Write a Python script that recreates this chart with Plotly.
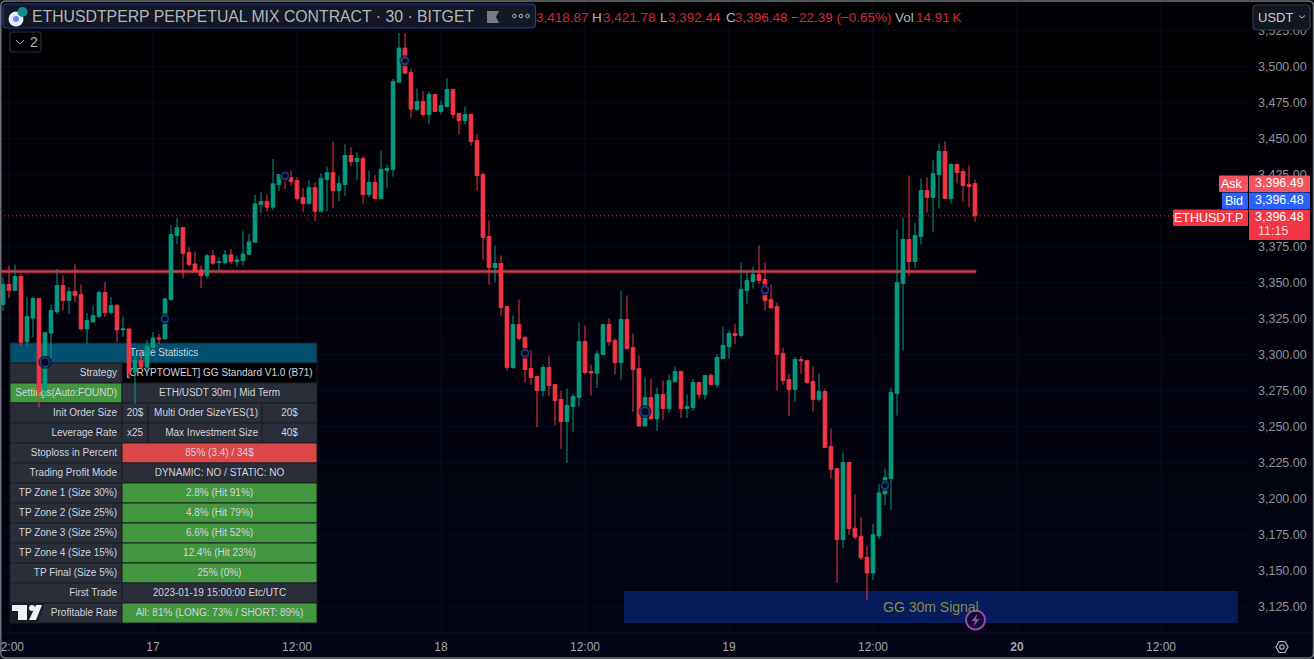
import pandas as pd
import plotly.graph_objects as go

W, H = 1314, 659
PLOT_R, PLOT_B = 1248, 633
FONT = "Liberation Sans"

# ---------- data ----------
times = pd.date_range("2024-07-16 11:30", periods=163, freq="30min")
opens = [
3334.9,3348.8,3344.6,3354.3,3309,3325.6,3339.1,3275.2,3315,3329.8,
3348.1,3337.7,3343.9,3341.8,3318,3322.8,3326.6,3343.2,3329.3,3334.2,
3317.3,3318,3288,3296,3291.4,3305.3,3311.7,3311,3338.4,3382.8,
3388.3,3371,3363.1,3358.9,3355,3368.7,3364,3364,3369.4,3364.7,
3365.4,3369.8,3378.2,3404.3,3406.4,3402.5,3418.2,3425.6,3422.9,3421,
3409.2,3405,3416.1,3399.7,3421.7,3426.6,3414,3418.3,3438.4,3434.2,
3436.3,3411.3,3419.7,3408.5,3428,3428.7,3489.3,3513,3496,3470.3,
3475.9,3466.9,3480.8,3469,3472.4,3484.2,3467.6,3462.7,3466.9,3448.8,
3425.2,3382.1,3360.6,3363.4,3333.5,3291.2,3321,3312,3290.5,3284.9,
3275.2,3291.2,3279.3,3268.9,3253.7,3264.1,3270.5,3309.2,3288.4,3287,
3300.2,3321,3309.9,3294.6,3324.5,3305,3290.5,3250.6,3270.3,3255.5,
3272.4,3262.7,3281.2,3288.4,3262.7,3263.4,3280.7,3272.4,3285.6,3279.3,
3297.4,3305.7,3314.8,3313.4,3344.6,3350.9,3355.7,3352.3,3338.4,3333.5,
3300.9,3282.8,3275.9,3296.7,3296,3281.4,3269,3274.5,3236.3,3221,
3171.7,3225.2,3179.6,3174,3159.4,3148.5,3174.2,3203.4,3214.1,3273.1,
3349.5,3380.1,3364.8,3382.2,3414.1,3409.3,3425.2,3441.2,3408.6,3432.2,
3427.3,3418.3,3418.87]
closes = [
3348.8,3344.6,3354.3,3308.7,3326.6,3339.1,3274.5,3315.4,3330.7,3348.1,
3337.7,3343.9,3341.1,3318,3323.8,3327.2,3343.2,3329.3,3334.2,3317.3,
3318,3287.7,3296,3291.4,3305.8,3311.6,3311,3338.8,3383.5,3388.3,
3370.5,3362.7,3358,3355,3368.7,3363.6,3364.7,3369.4,3364.7,3365.9,
3370,3378.4,3404.8,3406.4,3402.5,3418.7,3425.2,3422.1,3420.3,3408.5,
3405,3416.1,3399.7,3422.4,3426.5,3414,3419,3438.4,3434.2,3436.3,
3411.3,3419.7,3408.5,3428.7,3429.4,3489.8,3513,3495.6,3470.6,3475.9,
3466.9,3480.8,3469,3473.1,3484.2,3466.9,3462.7,3466.9,3448.1,3424.5,
3381.5,3360.6,3363.4,3332.8,3291.2,3321,3311.3,3289.8,3284.2,3275.2,
3291.2,3278.7,3268.2,3253.7,3264.8,3271,3309.2,3287.7,3287.4,3300.6,
3321,3309.2,3294.6,3324.5,3304.3,3289.8,3250.6,3270.3,3255.5,3272.4,
3262.7,3282.1,3288.4,3262.7,3264.1,3280.7,3272.4,3285.6,3279.3,3298.1,
3306.4,3314.8,3313.4,3345.3,3351.6,3355.7,3351.6,3337.7,3332.6,3300.2,
3282.1,3275.9,3296.7,3295.8,3280.7,3269,3274.5,3235.6,3220.3,3171.7,
3225.2,3179.3,3173.5,3159,3148.5,3175,3204.1,3214.8,3273.8,3350.2,
3380.1,3364.8,3382.9,3414.1,3409.3,3425.9,3441.2,3408.6,3432.2,3426.6,
3417.6,3416.9,3396.48]
highs = [
3353.9,3362,3362.7,3356.2,3340.4,3340.4,3339.5,3315.4,3334.9,3359.7,
3355,3346.9,3363.1,3348.8,3328.9,3334.2,3344.6,3350.9,3340,3335.3,
3326.6,3318,3300,3303,3310.3,3315.7,3314.5,3339.3,3389.8,3395.1,
3388.6,3374.7,3371.7,3362,3370,3372.8,3367.8,3372.8,3373.5,3368.9,
3386.3,3384,3411,3412.7,3411.3,3436,3425.2,3427,3428,3423.3,
3415.9,3421.5,3419.8,3426,3430.7,3448.1,3424.5,3446.5,3444.2,3440.5,
3437.7,3428,3424.8,3441.9,3432.1,3491.6,3523.4,3523.4,3498.6,3484.9,
3483.1,3482.8,3480.8,3476.6,3492.1,3484.7,3467.6,3472.4,3466.9,3453.4,
3426.6,3393.3,3375.9,3369,3334,3327.3,3338.4,3313.4,3303,3285.4,
3293.2,3299.5,3279.8,3275.2,3276.6,3273.1,3322.4,3320.3,3293.2,3303,
3321.5,3325.2,3311.3,3344.6,3341.2,3314.8,3299.5,3284.2,3283.5,3277.3,
3282.1,3286.3,3291.8,3289.1,3272.4,3283.3,3280.7,3285.6,3286.8,3300.6,
3319.6,3316.9,3321.7,3364.1,3358.5,3361.3,3375.9,3364.1,3348.8,3336.3,
3305,3286.8,3298.8,3298.8,3296,3291.9,3287,3276.4,3248.8,3221,
3232.1,3225.2,3203,3187.2,3167.3,3182.6,3210.4,3221,3277.3,3387,
3395.1,3424.5,3391.9,3422.5,3423.2,3435,3446.8,3448.2,3432.9,3432.2,
3429.4,3431.5,3421.78]
lows = [
3330.3,3339.3,3344.6,3306.4,3306.4,3312.2,3263.4,3268.3,3298.1,3328.4,
3330.7,3328.4,3336.5,3316.8,3307.1,3322.6,3325.6,3326.1,3328.4,3308.7,
3312.2,3283.6,3266,3290,3288,3303,3307.6,3310.6,3337.7,3377,
3353.2,3361.3,3357.3,3346.2,3353.2,3362.4,3357.3,3362.7,3363.1,3360.8,
3362,3369.4,3378.2,3398.3,3399.7,3400.6,3413.6,3415,3417.5,3407.1,
3399,3404.8,3392.8,3399.7,3399.7,3401.8,3406.7,3410.2,3430.8,3421,
3405,3409.5,3407.8,3408.5,3415.5,3423.8,3489.3,3495.1,3464.3,3469.6,
3465,3459.9,3469,3466.9,3471.7,3464.1,3453,3459.9,3445.3,3414,
3365.5,3348.8,3350.2,3326.6,3289.1,3290.2,3309.9,3280.7,3279.3,3249.7,
3271,3271.5,3251.3,3234.7,3224.9,3246.5,3264.1,3286.3,3271.7,3277,
3300,3306.4,3286.3,3282.8,3303.7,3260.4,3250.4,3250.4,3255.3,3247.2,
3254.8,3259.7,3281.2,3256.2,3256.2,3261.3,3269.4,3268.9,3278.9,3277,
3297.2,3297.2,3307.6,3311.8,3335.4,3346,3349.3,3330.7,3332.1,3275.2,
3279.3,3257.6,3267.3,3286.8,3279.8,3260.6,3267.5,3235.4,3214.1,3141.6,
3165.9,3175,3172.2,3157.6,3129.8,3143.7,3172.2,3195.8,3192.3,3257.8,
3303,3355.1,3360,3376.6,3398.9,3385,3401.6,3408.6,3405.1,3419,
3406.5,3402.3,3392.44]
signal_idx = [7, 27, 47, 67, 87, 107, 127, 147]
signal_prices = [3294.9, 3325, 3424.3, 3504.2, 3301.1, 3260.6, 3345.1, 3209.3]
signal_sizes = [10, 8, 8, 8, 8, 10, 8, 8]
resistance = 3357.9
last_price = 3396.48
price_ticks = [3125 + 25 * i for i in range(17)]
price_labels = ["" if v == 3400 else f"{v:,.2f}" for v in price_ticks]
date_ticks = ["2024-07-16 12:00", "2024-07-17 00:00", "2024-07-17 12:00", "2024-07-18 00:00",
              "2024-07-18 12:00", "2024-07-19 00:00", "2024-07-19 12:00", "2024-07-20 00:00",
              "2024-07-20 12:00"]
date_labels = ["12:00", "17", "12:00", "18", "12:00", "19", "12:00", "<b>20</b>", "12:00"]

# table rows: (left text, [(cell text, col start, col end, fill)])
GREY, GREEN, RED, BLACK = "#2a2e39", "#43983f", "#dc4748", "#010103"
table_rows = [
    ("Strategy", [("[CRYPTOWELT] GG Standard V1.0 (B71)", 122, 317, BLACK)], GREY),
    ("Settings(Auto:FOUND)", [("ETH/USDT 30m | Mid Term", 122, 317, GREY)], GREEN),
    ("Init Order Size", [("20$", 122, 148, GREY), ("Multi Order SizeYES(1)", 148, 262, GREY), ("20$", 262, 317, GREY)], GREY),
    ("Leverage Rate", [("x25", 122, 148, GREY), ("Max Investment Size", 148, 262, GREY), ("40$", 262, 317, GREY)], GREY),
    ("Stoploss in Percent", [("85% (3.4) / 34$", 122, 317, RED)], GREY),
    ("Trading Profit Mode", [("DYNAMIC: NO / STATIC: NO", 122, 317, GREY)], GREY),
    ("TP Zone 1 (Size 30%)", [("2.8% (Hit 91%)", 122, 317, GREEN)], GREY),
    ("TP Zone 2 (Size 25%)", [("4.8% (Hit 79%)", 122, 317, GREEN)], GREY),
    ("TP Zone 3 (Size 25%)", [("6.6% (Hit 52%)", 122, 317, GREEN)], GREY),
    ("TP Zone 4 (Size 15%)", [("12.4% (Hit 23%)", 122, 317, GREEN)], GREY),
    ("TP Final (Size 5%)", [("25% (0%)", 122, 317, GREEN)], GREY),
    ("First Trade", [("2023-01-19 15:00:00 Etc/UTC", 122, 317, GREY)], GREY),
    ("Profitable Rate", [("All: 81% (LONG: 73% / SHORT: 89%)", 122, 317, GREEN)], GREY),
]


# ---------- helpers ----------
def px(x, y):
    return f"{x / W:.5f} {1 - y / H:.5f}"


def rr(x0, y0, x1, y1, r=2):
    return (f"M {px(x0 + r, y0)} L {px(x1 - r, y0)} Q {px(x1, y0)} {px(x1, y0 + r)} "
            f"L {px(x1, y1 - r)} Q {px(x1, y1)} {px(x1 - r, y1)} L {px(x0 + r, y1)} "
            f"Q {px(x0, y1)} {px(x0, y1 - r)} L {px(x0, y0 + r)} Q {px(x0, y0)} {px(x0 + r, y0)} Z")


def poly(pts, close=True):
    s = "M " + " L ".join(px(a, b) for a, b in pts)
    return s + (" Z" if close else "")


shapes, annos = [], []


def pshape(path, fill=None, line=None, lw=1, layer="above"):
    shapes.append(dict(type="path", xref="paper", yref="paper", path=path, layer=layer,
                       fillcolor=fill if fill else "rgba(0,0,0,0)",
                       line=dict(color=line if line else "rgba(0,0,0,0)", width=lw if line else 0)))


def circ(cx, cy, r, fill=None, line=None, lw=1):
    shapes.append(dict(type="circle", xref="paper", yref="paper", layer="above",
                       x0=(cx - r) / W, x1=(cx + r) / W, y0=1 - (cy + r) / H, y1=1 - (cy - r) / H,
                       fillcolor=fill if fill else "rgba(0,0,0,0)",
                       line=dict(color=line if line else "rgba(0,0,0,0)", width=lw if line else 0)))


def ann(x, y, text, size=13, color="#b2b5be", anchor="left"):
    annos.append(dict(xref="paper", yref="paper", x=x / W, y=1 - y / H, text=text, showarrow=False,
                      xanchor=anchor, yanchor="middle", borderpad=0,
                      font=dict(family=FONT, size=size, color=color)))


# ---------- background gradient (paper, below all) ----------
bands = 14
for i in range(bands):
    t = i / (bands - 1)
    c = f"rgb({int(0 + 2 * t)},{int(0 + 4 * t)},{int(2 + 18 * t)})"
    shapes.append(dict(type="rect", xref="paper", yref="paper", layer="below", x0=0, x1=1,
                       y0=1 - (i + 1) / bands, y1=1 - i / bands, fillcolor=c, line=dict(width=0)))

# ---------- faint grid, under the table ----------
GRID = "#070a1a"
Y_3500 = 66.8
y_top = 3500 + Y_3500 / 1.44
y_bot = 3500 - (PLOT_B - Y_3500) / 1.44
x_start, x_end = pd.Timestamp("2024-07-16 11:15"), pd.Timestamp("2024-07-20 19:15")
for v in price_ticks:
    yy = PLOT_B * (y_top - v) / (y_top - y_bot)
    shapes.append(dict(type="line", xref="paper", yref="paper", layer="below", x0=0, x1=PLOT_R / W,
                       y0=1 - yy / H, y1=1 - yy / H, line=dict(color=GRID, width=1)))
for d in date_ticks:
    xx = PLOT_R * (pd.Timestamp(d) - x_start) / (x_end - x_start)
    shapes.append(dict(type="line", xref="paper", yref="paper", layer="below", x0=xx / W, x1=xx / W,
                       y0=1 - PLOT_B / H, y1=1, line=dict(color=GRID, width=1)))

# ---------- table on the pixel axes, below the candles ----------
tx, ty, tt, tp = [], [], [], []


def cell(x0, y0, x1, y1, fill):
    shapes.append(dict(type="rect", xref="x", yref="y", layer="below", x0=x0, x1=x1, y0=y0, y1=y1,
                       fillcolor=fill, line=dict(color="#1a1c23", width=1)))


def ttext(x, y, s, pos):
    tx.append(x); ty.append(y); tt.append(s); tp.append(pos)


cell(10, 343, 317, 363, "#02506f")
ttext(164, 353, "Trade Statistics", "middle center")
for i, (label, cells, left_fill) in enumerate(table_rows):
    y0 = 363 + 20 * i
    cell(10, y0, 122, y0 + 20, left_fill)
    ttext(117, y0 + 10, label, "middle left")   # "middle left": text ends at the point
    for (s, a, b, fill) in cells:
        cell(a, y0, b, y0 + 20, fill)
        if s.startswith("Multi") or s.startswith("Max"):
            ttext(258, y0 + 10, s, "middle left")
        else:
            ttext((a + b) / 2, y0 + 10, s, "middle center")

# signal panel
shapes.append(dict(type="rect", xref="x", yref="y", layer="below", x0=624, x1=1238, y0=591, y1=623,
                   fillcolor="#051c5c", line=dict(width=0)))

# ---------- price lines (below candles) ----------
shapes.append(dict(type="line", xref="x2", yref="y2", layer="below", x0=x_start,
                   x1=times[-1] + pd.Timedelta("6min"), y0=resistance, y1=resistance,
                   line=dict(color="#8f2a35", width=3.5)))
shapes.append(dict(type="line", xref="x2", yref="y2", layer="below", x0=x_start,
                   x1=times[-1] + pd.Timedelta("6min"), y0=resistance, y1=resistance,
                   line=dict(color="#c9404d", width=1.5)))
shapes.append(dict(type="line", xref="paper", yref="y2", layer="below", x0=0, x1=PLOT_R / W,
                   y0=last_price, y1=last_price, line=dict(color="#f23645", width=1, dash="1px,3px")))

# ---------- header ----------
pshape(rr(3, 4, 535.5, 28, 4), fill="#141824", line="#1c3f94", lw=1.2)
shapes.append(dict(type="line", xref="paper", yref="paper", layer="above", x0=478.5 / W, x1=478.5 / W,
                   y0=1 - 27 / H, y1=1 - 5 / H, line=dict(color="#0b1538", width=1)))
circ(16, 19, 7.5, fill="#e8ecf8")
circ(16, 19, 3, fill="#6f83e6")
circ(22.5, 12, 5, fill="#0f8f8c")
ann(31, 16.5, "ETHUSDTPERP PERPETUAL MIX CONTRACT · 30 · BITGET", 15.8, "#b2b5be")
pshape(poly([(487, 11), (499, 11), (496, 17), (499, 23), (487, 23)]), fill="#787b86")
for cx in (514.5, 521, 527.5):
    circ(cx, 16, 1.8, line="#b2b5be", lw=1)
HDR_RED = "#d12a3a"
for x, s, c in [(535, "3,418.87", HDR_RED), (591, "H", "#b2b5be"), (602, "3,421.78", HDR_RED),
                (659, "L", "#b2b5be"), (667, "3,392.44", HDR_RED), (725, "C", "#b2b5be"),
                (734, "3,396.48", HDR_RED), (790, "−22.39 (−0.65%)", HDR_RED), (894, "Vol", "#b2b5be"),
                (915, "14.91\u2009K", HDR_RED)]:
    ann(x, 17.5, s, 13.5, c)

# legend toggle
pshape(rr(10, 32, 41, 52, 3), fill="#000003", line="#2a2e39", lw=1.2)
pshape(poly([(16, 40), (20, 44), (24, 40)], close=False), line="#b2b5be", lw=1)
ann(29, 41.5, "2", 14, "#b2b5be")

# currency button
pshape(rr(1253, 5, 1310, 30, 4), fill="#131722", line="#363a45", lw=1.2)
ann(1257, 17.5, "USDT", 13, "#c8cad0")
pshape(poly([(1299, 15.5), (1302, 18), (1305, 15.5)], close=False), line="#b2b5be", lw=1)

# price tags
pshape(rr(1219, 175.5, 1248, 192, 1), fill="#f7525f")
ann(1244, 184, "Ask", 12.5, "#ffffff", "right")
pshape(rr(1249, 175.5, 1310, 192, 1), fill="#f7525f")
ann(1305, 183, "3,396.49", 12.5, "#ffffff", "right")
pshape(rr(1222, 192.5, 1248, 209, 1), fill="#2962ff")
ann(1244, 200.5, "Bid", 12.5, "#ffffff", "right")
pshape(rr(1249, 192.5, 1310, 209, 1), fill="#2962ff")
ann(1305, 200, "3,396.48", 12.5, "#ffffff", "right")
pshape(rr(1173, 209.5, 1248, 226, 1), fill="#f23645")
ann(1244, 218, "ETHUSDT.P", 12.5, "#ffffff", "right")
pshape(rr(1249, 209.5, 1310, 240, 1), fill="#f23645")
ann(1305, 217, "3,396.48", 12.5, "#ffffff", "right")
ann(1257, 231, "11:15", 12.5, "#fbd5d8")

# signal text + icon
ann(931, 607, "GG 30m Signal", 14, "#8a8a3e", "center")
circ(975.5, 620, 9.5, fill="#0a1030", line="#a245ab", lw=2)
pshape(poly([(977.5, 613.5), (971.5, 621), (975, 621), (973.5, 626.5), (979.5, 619), (976, 619)]), fill="#a245ab")

# settings icon
pshape(poly([(1276, 647), (1279, 641.5), (1285, 641.5), (1288, 647), (1285, 652.5), (1279, 652.5)]),
       line="#b2b5be", lw=1.2)
circ(1282, 647, 2.2, line="#b2b5be", lw=1.2)

# logo
pshape(poly([(10, 603), (45, 603), (38, 623), (10, 623)]), fill="#1b1d24")
pshape(poly([(12, 605), (27, 605), (27, 620), (18, 620), (18, 611), (12, 611)]), fill="#f0f1f3")
circ(32, 608, 3, fill="#f0f1f3")
pshape(poly([(36, 605), (42, 605), (36, 620), (29, 620)]), fill="#f0f1f3")

# outer frame
shapes.append(dict(type="line", xref="paper", yref="paper", layer="above", x0=0, x1=1,
                   y0=1 - PLOT_B / H, y1=1 - PLOT_B / H, line=dict(color="#0c0f20", width=1)))
pshape(rr(0.8, 1, W - 0.5, H - 1, 5), line="#6f7278", lw=1.5)

# ---------- traces ----------
fig = go.Figure()
fig.add_trace(go.Scatter(x=tx, y=ty, text=tt, mode="text", textposition=tp, xaxis="x", yaxis="y",
                         textfont=dict(family=FONT, size=10, color="#d1d4dc"), hoverinfo="skip", showlegend=False))
fig.add_trace(go.Candlestick(x=times, open=opens, high=highs, low=lows, close=closes, xaxis="x2", yaxis="y2",
                             increasing=dict(line=dict(color="#089981", width=1), fillcolor="#089981"),
                             decreasing=dict(line=dict(color="#f23645", width=1), fillcolor="#f23645"),
                             whiskerwidth=0, hoverinfo="skip", showlegend=False))
sig_x = [times[i] for i in signal_idx]
fig.add_trace(go.Scatter(x=sig_x, y=signal_prices, mode="markers", xaxis="x2", yaxis="y2", hoverinfo="skip",
                         showlegend=False,
                         marker=dict(size=[s + 3 for s in signal_sizes], color="#000006", line=dict(width=0))))
fig.add_trace(go.Scatter(x=sig_x, y=signal_prices, mode="markers", xaxis="x2", yaxis="y2", hoverinfo="skip",
                         showlegend=False,
                         marker=dict(size=[s - 1 for s in signal_sizes], color="rgba(0,0,8,1)",
                                     line=dict(color="#1a4bc4", width=1.8))))

dom_x = [0, PLOT_R / W]
dom_y = [1 - PLOT_B / H, 1]
fig.update_layout(
    width=W, height=H, margin=dict(l=0, r=0, t=0, b=0, pad=0), boxgap=0.12,
    paper_bgcolor="#000002", plot_bgcolor="rgba(0,0,0,0)", showlegend=False, dragmode=False,
    font=dict(family=FONT, size=12, color="#8f9198"),
    xaxis=dict(domain=dom_x, range=[0, PLOT_R], visible=False, fixedrange=True, automargin=False),
    yaxis=dict(domain=dom_y, range=[PLOT_B, 0], visible=False, fixedrange=True, automargin=False),
    xaxis2=dict(overlaying="x", anchor="y2", type="date", range=[x_start, x_end], automargin=False,
                tickmode="array", tickvals=date_ticks, ticktext=date_labels, ticklen=0, showline=False,
                showgrid=False, zeroline=False, rangeslider=dict(visible=False),
                ticklabelstandoff=5, ticklabeloverflow="allow",
                tickfont=dict(family=FONT, size=12, color="#a3a6af"), fixedrange=True),
    yaxis2=dict(overlaying="y", anchor="x2", side="right", range=[y_bot, y_top], automargin=False,
                tickmode="array", tickvals=price_ticks, ticktext=price_labels,
                ticklen=0, showline=False, showgrid=False, zeroline=False,
                ticklabelstandoff=9, tickfont=dict(family=FONT, size=12.5, color="#8f9198"), fixedrange=True),
    shapes=shapes, annotations=annos,
)
fig.write_html("out.html", config=dict(displayModeBar=False, responsive=False),
               post_script="document.body.style.margin='0';document.body.style.overflow='hidden';document.body.style.background='#000';")
